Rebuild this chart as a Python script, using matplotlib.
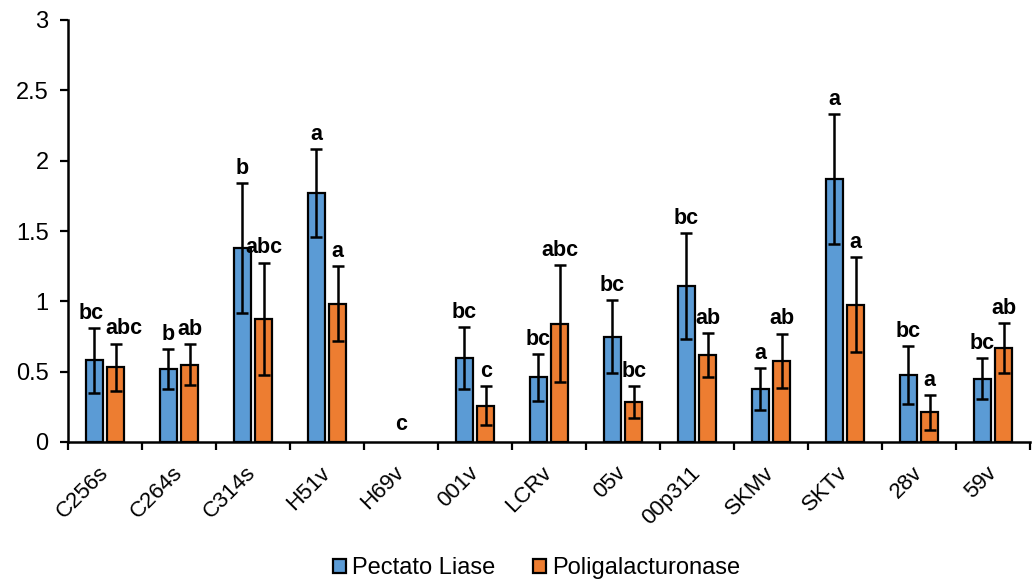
import matplotlib
matplotlib.use("Agg")
import matplotlib.pyplot as plt
from matplotlib.patches import Patch
import numpy as np

categories = ["C256s", "C264s", "C314s", "H51v", "H69v", "001v", "LCRv", "05v",
              "00p311", "SKMv", "SKTv", "28v", "59v"]
pectato = [0.58, 0.52, 1.38, 1.77, 0.0, 0.595, 0.46, 0.75, 1.107, 0.375, 1.87, 0.474, 0.451]
pectato_err = [0.23, 0.14, 0.46, 0.31, 0.0, 0.22, 0.165, 0.257, 0.377, 0.15, 0.46, 0.205, 0.145]
poli = [0.53, 0.55, 0.875, 0.984, 0.0, 0.259, 0.84, 0.285, 0.62, 0.576, 0.977, 0.21, 0.665]
poli_err = [0.17, 0.145, 0.40, 0.265, 0.0, 0.14, 0.415, 0.115, 0.157, 0.195, 0.34, 0.125, 0.178]
pectato_letters = ["bc", "b", "b", "a", "", "bc", "bc", "bc", "bc", "a", "a", "bc", "bc"]
poli_letters = ["abc", "ab", "abc", "a", "", "c", "abc", "bc", "ab", "ab", "a", "a", "ab"]
zero_letter = {4: "c"}
series_names = ["Pectato Liase", "Poligalacturonase"]
colors = ["#5B9BD5", "#ED7D31"]

plt.rcParams['font.family'] = ['Liberation Sans', 'DejaVu Sans']

fig = plt.figure(figsize=(10.32, 5.84), dpi=100)
ax = fig.add_axes([68/1032, 1 - 442/584, (1030 - 68)/1032, (442 - 20)/584])

x = np.arange(len(categories))
w = 0.225
off = 0.145
lw_edge = 1.6

def lws(vals):
    return [lw_edge if v > 0 else 0 for v in vals]

b1 = ax.bar(x - off, pectato, w, color=colors[0], edgecolor='black', linewidth=lws(pectato),
            label=series_names[0], zorder=2)
b2 = ax.bar(x + off, poli, w, color=colors[1], edgecolor='black', linewidth=lws(poli),
            label=series_names[1], zorder=2)

for xs, vals, errs in [(x - off, pectato, pectato_err), (x + off, poli, poli_err)]:
    mask = np.array(errs) > 0
    ax.errorbar(np.array(xs)[mask], np.array(vals)[mask], yerr=np.array(errs)[mask],
                fmt='none', ecolor='black', elinewidth=1.8, capsize=4.5, capthick=1.8, zorder=3)

# small horizontal nudges (points) to keep neighbouring labels apart
nudge = {(0, 0): -2, (1, 0): 6}

for s_idx, (xs, vals, errs, letters) in enumerate([(x - off, pectato, pectato_err, pectato_letters),
                                                    (x + off, poli, poli_err, poli_letters)]):
    for i, (xi, v, e, t) in enumerate(zip(xs, vals, errs, letters)):
        if t:
            dx = nudge.get((s_idx, i), 0)
            ax.annotate(t, (xi, v + e), xytext=(dx, 3), textcoords='offset points',
                        ha='center', va='bottom', fontsize=15.5, fontweight='bold')
for i, t in zero_letter.items():
    ax.annotate(t, (x[i], 0), xytext=(0, 5), textcoords='offset points',
                ha='center', va='bottom', fontsize=15.5, fontweight='bold')

ax.set_xlim(-0.5, len(categories) - 0.5)
ax.set_ylim(0, 3)
ax.set_yticks([0, 0.5, 1, 1.5, 2, 2.5, 3])
ax.set_yticklabels(["0", "0.5", "1", "1.5", "2", "2.5", "3"], fontsize=17)
ax.tick_params(axis='y', direction='out', length=6, width=1.6, pad=8)

ax.set_xticks(np.arange(len(categories) + 1) - 0.5)
ax.set_xticklabels([])
ax.tick_params(axis='x', which='major', direction='out', length=6, width=1.6)
ax.set_xticks(x, minor=True)
ax.set_xticklabels(categories, minor=True, rotation=45, ha='right', va='center',
                   rotation_mode='anchor', fontsize=16)
ax.tick_params(axis='x', which='minor', length=0, pad=20)

for s in ['top', 'right']:
    ax.spines[s].set_visible(False)
for s in ['left', 'bottom']:
    ax.spines[s].set_linewidth(1.8)

handles = [Patch(facecolor=c, edgecolor='black', linewidth=lw_edge) for c in colors]
leg = fig.legend(handles=handles, labels=series_names, loc='center',
                 bbox_to_anchor=(0.52, 1 - 568/584), ncol=2, frameon=False,
                 fontsize=17, handlelength=0.55, handleheight=0.55, handletextpad=0.25,
                 columnspacing=1.6)

fig.savefig("out.png", dpi=100)
